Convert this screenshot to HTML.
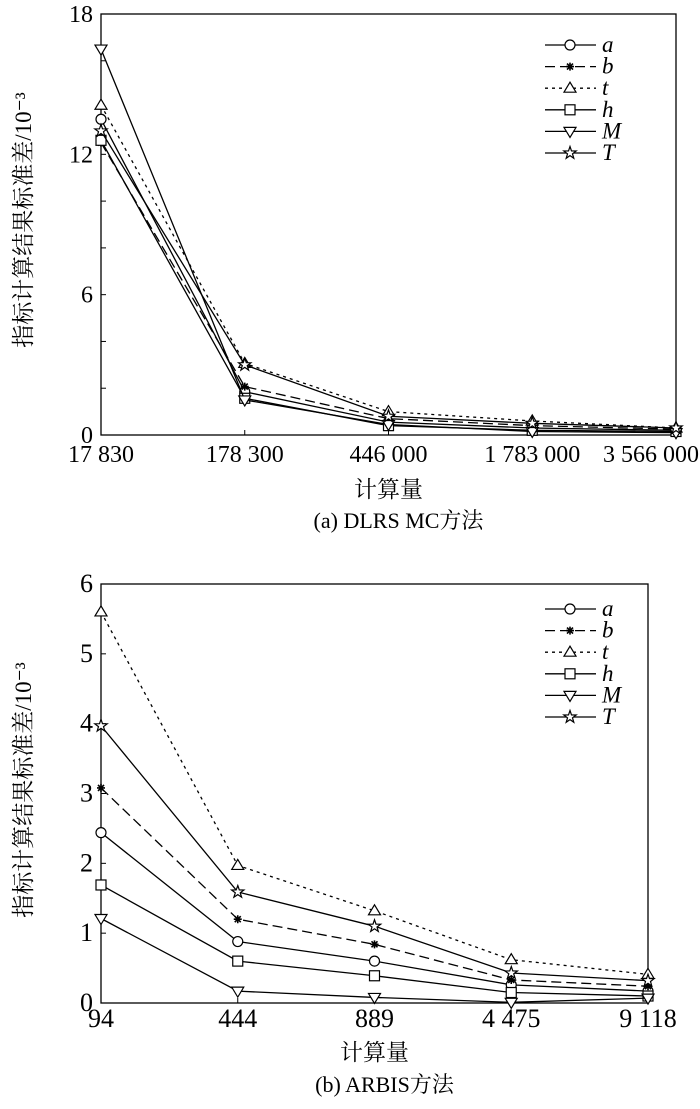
<!DOCTYPE html>
<html><head><meta charset="utf-8"><style>
body{margin:0;background:#fff;}
svg text{font-family:"Liberation Serif","Noto Serif CJK SC","Noto Sans CJK SC",serif;fill:#000;}
</style></head><body>
<svg id="s" width="700" height="1104" xmlns="http://www.w3.org/2000/svg"></svg>
<script>
const seriesNames=['a','b','t','h','M','T'];
const dash={a:'',b:'10,5',t:'3,4',h:'',M:'',T:''};
const cat1=['17 830','178 300','446 000','1 783 000','3 566 000'];
const a1=[13.5,1.85,0.55,0.3,0.2];
const b1=[12.5,2.07,0.7,0.4,0.25];
const t1=[14.1,3.06,1.0,0.6,0.3];
const h1=[12.6,1.57,0.4,0.2,0.15];
const M1=[16.5,1.5,0.45,0.15,0.1];
const T1=[13.0,3.0,0.8,0.5,0.3];
const yt1=[0,6,12,18];
const cat2=['94','444','889','4 475','9 118'];
const a2=[2.44,0.88,0.6,0.26,0.17];
const b2=[3.08,1.2,0.84,0.33,0.24];
const t2=[5.6,1.97,1.32,0.62,0.41];
const h2=[1.69,0.6,0.39,0.15,0.1];
const M2=[1.21,0.17,0.08,0.01,0.07];
const T2=[3.97,1.59,1.1,0.43,0.32];
const yt2=[0,1,2,3,4,5,6];
const S=document.getElementById('s');
const NS='http://www.w3.org/2000/svg';
function el(t,at,p){const e=document.createElementNS(NS,t);for(const k in at)e.setAttribute(k,at[k]);(p||S).appendChild(e);return e;}
function txt(x,y,s,sz,anc,p,it){const e=el('text',{x:x,y:y,'font-size':sz,'text-anchor':anc||'middle'},p);if(it)e.setAttribute('font-style','italic');e.textContent=s;return e;}
function marker(g,k,x,y){
 const st={fill:'#fff',stroke:'#000','stroke-width':1.2};
 if(k==='a')el('circle',Object.assign({cx:x,cy:y,r:5},st),g);
 if(k==='b'){el('path',{d:`M${x-4},${y}H${x+4}M${x},${y-4}V${y+4}M${x-3},${y-3}L${x+3},${y+3}M${x-3},${y+3}L${x+3},${y-3}`,stroke:'#000','stroke-width':1.6},g);}
 if(k==='t')el('polygon',Object.assign({points:`${x},${y-6} ${x-6},${y+4} ${x+6},${y+4}`},st),g);
 if(k==='h')el('rect',Object.assign({x:x-5,y:y-5,width:10,height:10},st),g);
 if(k==='M')el('polygon',Object.assign({points:`${x},${y+6} ${x-6},${y-4} ${x+6},${y-4}`},st),g);
 if(k==='T'){let p='';for(let i=0;i<10;i++){const r=i%2?2.6:6.5,an=-Math.PI/2+i*Math.PI/5;p+=(x+r*Math.cos(an)).toFixed(1)+','+(y+r*Math.sin(an)).toFixed(1)+' ';}el('polygon',{points:p,fill:'#fff',stroke:'#000','stroke-width':1.2},g);}
}
function chart(name,L,R,T,B,ymax,minorStep,yt,cats,data,legY,xtY,tickSz,xtitleY,cap,capY,ylabY){
 const g=el('g',{});
 const xs=i=>L+(R-L)*i/(cats.length-1);
 const ys=v=>B-(B-T)*v/ymax;
 el('rect',{x:L,y:T,width:R-L,height:B-T,fill:'none',stroke:'#000','stroke-width':1.3},g);
 for(let v=0;v<=ymax+1e-9;v+=minorStep)el('line',{x1:L,x2:L+5,y1:ys(v),y2:ys(v),stroke:'#000','stroke-width':1},g);
 yt.forEach(v=>txt(L-8,ys(v)+8,String(v),tickSz,'end',g));
 cats.forEach((c,i)=>{
  el('line',{x1:xs(i),x2:xs(i),y1:B,y2:B-5,stroke:'#000'},g);
  const t=txt(xs(i),xtY,c,tickSz,'middle',g);
  const w=t.getComputedTextLength();
  if(xs(i)+w/2>699){t.setAttribute('x',699);t.setAttribute('text-anchor','end');}
 });
 seriesNames.forEach((k,si)=>{
  const vals=data[si];
  const sg=el('g',{},g);
  el('polyline',{points:vals.map((v,i)=>xs(i)+','+ys(v)).join(' '),fill:'none',stroke:'#000','stroke-width':1.3,'stroke-dasharray':dash[k]},sg);
  vals.forEach((v,i)=>marker(sg,k,xs(i),ys(v)));
  const ly=legY+si*21.6;
  const lg=el('g',{},g);
  el('line',{x1:545,x2:596,y1:ly,y2:ly,stroke:'#000','stroke-width':1.3,'stroke-dasharray':dash[k]},lg);
  marker(lg,k,570,ly);
  txt(602,ly+7,k,23,'start',lg,true);
 });
 const yl=el('text',{x:0,y:0,'font-size':23,'text-anchor':'middle',transform:`translate(31,${ylabY}) rotate(-90)`},g);
 yl.textContent='指标计算结果标准差/10⁻³';
 txt((L+R)/2,xtitleY,'计算量',23,'middle',g);
 txt((L+R)/2+10,capY,cap,22,'middle',g);
}
chart('chart-dlrs-mc',101,676,14,435,18,2,yt1,cat1,[a1,b1,t1,h1,M1,T1],45,462,24,497,'(a) DLRS MC方法',528,220);
chart('chart-arbis',101,648,584,1003,6,1,yt2,cat2,[a2,b2,t2,h2,M2,T2],609,1027,26,1060,'(b) ARBIS方法',1092,790);
</script>
</body></html>
